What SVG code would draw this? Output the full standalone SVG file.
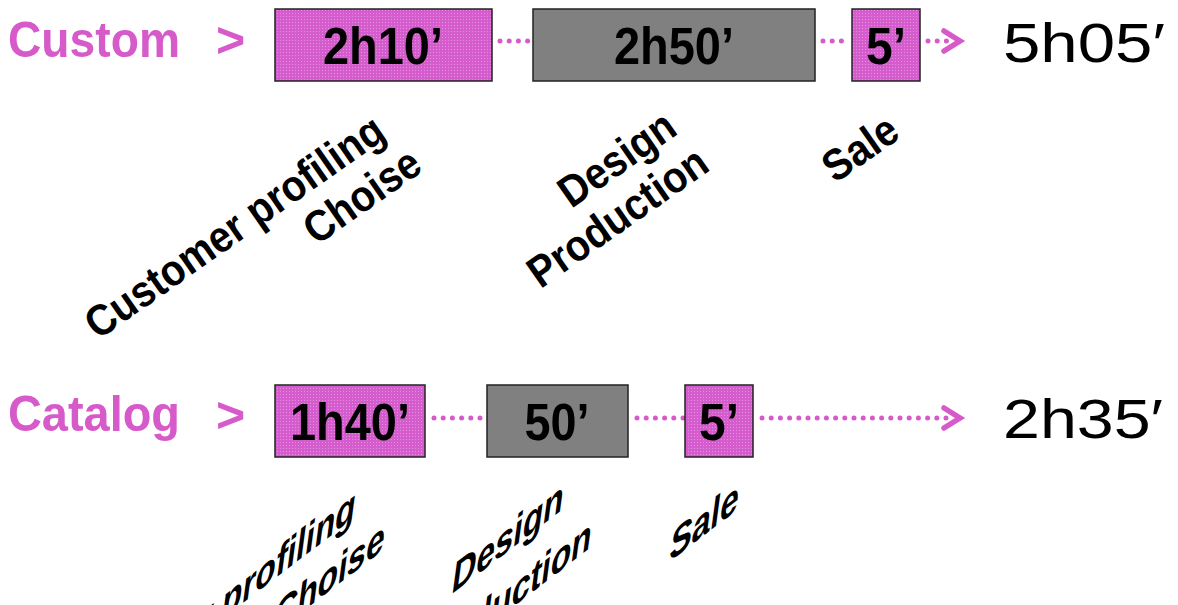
<svg xmlns="http://www.w3.org/2000/svg" width="1178" height="605" viewBox="0 0 1178 605">
  <defs>
    <!-- grainy magenta fill for the short steps -->
    <pattern id="grain" width="3" height="3" patternUnits="userSpaceOnUse">
      <rect width="3" height="3" fill="#d55ccc"/>
      <rect x="1" y="1" width="1" height="1" fill="#e48ede"/>
    </pattern>
  </defs>
  <style>
    .row { font-family: "Liberation Sans", Arial, sans-serif; font-weight: bold; font-size: 50px; fill: #d65ac9; }
    .val { font-family: "Liberation Sans", Arial, sans-serif; font-weight: bold; font-size: 51px; fill: #000; }
    .tot { font-family: "Liberation Sans", Arial, sans-serif; font-size: 56px; fill: #000; }
    .lbl { font-family: "Liberation Sans", Arial, sans-serif; font-weight: bold; font-size: 44px; fill: #000; }
    .pink { fill: url(#grain); stroke: #222; stroke-width: 1.5; }
    .grey { fill: #808080; stroke: #222; stroke-width: 1.5; }
    .dots { stroke: #d65ac9; stroke-width: 5; stroke-linecap: round; stroke-dasharray: 0 9.2; fill: none; }
    .head { stroke: #d65ac9; stroke-width: 5.5; fill: none; stroke-linecap: round; stroke-linejoin: miter; }
  </style>

  <!-- row titles -->
  <g id="title-custom">
    <text class="row" x="8" y="57" textLength="172" lengthAdjust="spacingAndGlyphs">Custom</text>
    <text class="row" x="216" y="57" font-size="50">&gt;</text>
  </g>
  <g id="title-catalog">
    <text class="row" x="8" y="431" textLength="172" lengthAdjust="spacingAndGlyphs">Catalog</text>
    <text class="row" x="216" y="432" font-size="50">&gt;</text>
  </g>

  <!-- dotted connectors -->
  <g id="connectors">
    <line class="dots" x1="500" y1="41" x2="530" y2="41"/>
    <line class="dots" x1="823" y1="41" x2="850" y2="41"/>
    <line class="dots" x1="928" y1="41" x2="950" y2="41"/>
    <polyline class="head" points="944,31 960,41 944,51"/>

    <line class="dots" x1="434" y1="418" x2="485" y2="418"/>
    <line class="dots" x1="637" y1="418" x2="683" y2="418"/>
    <line class="dots" x1="762" y1="418" x2="950" y2="418"/>
    <polyline class="head" points="944,408 960,418 944,428"/>
  </g>

  <!-- custom process -->
  <g id="custom-profiling">
    <rect class="pink" x="275" y="9" width="217" height="72"/>
    <text class="val" x="383" y="64" text-anchor="middle" textLength="120" lengthAdjust="spacingAndGlyphs">2h10’</text>
  </g>
  <g id="custom-design">
    <rect class="grey" x="533" y="9" width="282" height="72"/>
    <text class="val" x="674" y="64" text-anchor="middle" textLength="120" lengthAdjust="spacingAndGlyphs">2h50’</text>
  </g>
  <g id="custom-sale">
    <rect class="pink" x="852" y="9" width="68" height="72"/>
    <text class="val" x="886" y="64" text-anchor="middle" textLength="40" lengthAdjust="spacingAndGlyphs">5’</text>
  </g>
  <g id="custom-total">
    <text class="tot" x="1003" y="62" textLength="162" lengthAdjust="spacingAndGlyphs">5h05′</text>
  </g>

  <!-- custom step labels -->
  <g id="custom-labels">
    <text class="lbl" text-anchor="end" transform="translate(397,131) rotate(-35) scale(0.9,1)">
      <tspan x="0" y="0">Customer profiling</tspan>
      <tspan x="0" dy="48">Choise</tspan>
    </text>
    <text class="lbl" text-anchor="end" transform="translate(684,130) rotate(-35) scale(0.9,1)">
      <tspan x="6" y="0">Design</tspan>
      <tspan x="0" dy="48">Production</tspan>
    </text>
    <text class="lbl" text-anchor="end" transform="translate(902,137) rotate(-35) scale(0.9,1)">Sale</text>
  </g>

  <!-- catalog step labels, slanted -->
  <g id="catalog-labels">
    <text class="lbl" text-anchor="end" font-size="46" transform="matrix(0.76,-0.58,-0.14,1.04,354,518)">Customer profiling</text>
    <text class="lbl" text-anchor="end" font-size="46" transform="matrix(0.76,-0.58,-0.14,1.04,383,550)">Choise</text>
    <text class="lbl" text-anchor="end" font-size="46" transform="matrix(0.76,-0.58,-0.14,1.04,562,510)">Design</text>
    <text class="lbl" text-anchor="end" font-size="46" transform="matrix(0.76,-0.58,-0.14,1.04,590,548)">Production</text>
    <text class="lbl" text-anchor="end" font-size="46" transform="matrix(0.76,-0.58,-0.14,1.04,737,510)">Sale</text>
  </g>

  <!-- catalog process -->
  <g id="catalog-profiling">
    <rect class="pink" x="275" y="385" width="150" height="72"/>
    <text class="val" x="350" y="440" text-anchor="middle" textLength="120" lengthAdjust="spacingAndGlyphs">1h40’</text>
  </g>
  <g id="catalog-design">
    <rect class="grey" x="487" y="385" width="141" height="72"/>
    <text class="val" x="557" y="440" text-anchor="middle" textLength="65" lengthAdjust="spacingAndGlyphs">50’</text>
  </g>
  <g id="catalog-sale">
    <rect class="pink" x="685" y="385" width="68" height="72"/>
    <text class="val" x="719" y="440" text-anchor="middle" textLength="40" lengthAdjust="spacingAndGlyphs">5’</text>
  </g>
  <g id="catalog-total">
    <text class="tot" x="1003" y="438" textLength="160" lengthAdjust="spacingAndGlyphs">2h35′</text>
  </g>
</svg>
